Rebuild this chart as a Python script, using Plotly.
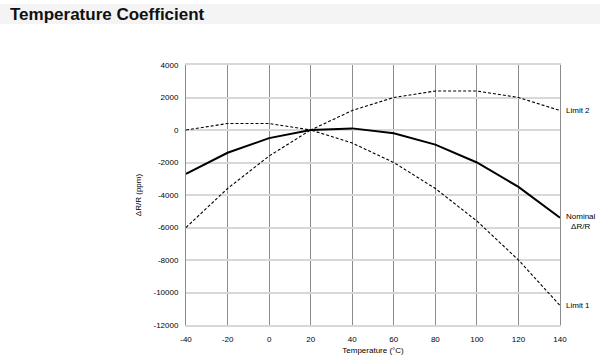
import plotly.graph_objects as go

temps = [-40, -20, 0, 20, 40, 60, 80, 100, 120, 140]
nominal = [-2700, -1400, -500, 0, 100, -200, -900, -2000, -3500, -5400]
limit2 = [0, 400, 400, 0, 1200, 2000, 2400, 2400, 2000, 1200]
limit1 = [-6000, -3600, -1600, 0, -800, -2000, -3600, -5600, -8000, -10800]

x_ticks = [-40, -20, 0, 20, 40, 60, 80, 100, 120, 140]
x_labels = ["-40", "-20", "0", "20", "40", "60", "80", "100", "120", "140"]
y_ticks = [4000, 2000, 0, -2000, -4000, -6000, -8000, -10000, -12000]
y_labels = ["4000", "2000", "0", "-2000", "-4000", "-6000", "-8000", "-10000", "-12000"]

FONT = "Liberation Sans, Arial, sans-serif"

fig = go.Figure()
fig.add_trace(go.Scatter(x=temps, y=limit2, mode="lines",
                         line=dict(color="black", width=1.1, dash="3px,2px"), name="Limit 2"))
fig.add_trace(go.Scatter(x=temps, y=limit1, mode="lines",
                         line=dict(color="black", width=1.1, dash="3px,2px"), name="Limit 1"))
fig.add_trace(go.Scatter(x=temps, y=nominal, mode="lines",
                         line=dict(color="black", width=2), name="Nominal"))

L, R, T, B = 186, 40, 65, 30
W, H = 600, 355
pw, ph = W - L - R, H - T - B

def px2x(px):
    return (px - L) / pw

def px2y(py):
    return (H - B - py) / ph

# title band
fig.add_shape(type="rect", xref="paper", yref="paper",
              x0=px2x(0), x1=px2x(600), y0=px2y(24), y1=px2y(4),
              fillcolor="#f4f4f4", line_width=0, layer="below")
fig.add_annotation(xref="paper", yref="paper", x=px2x(8), y=px2y(14),
                   xanchor="left", yanchor="middle", showarrow=False,
                   text="<b>Temperature Coefficient</b>",
                   font=dict(family=FONT, size=17, color="#111"))

# series labels
lab_font = dict(family=FONT, size=8, color="black")
fig.add_annotation(x=140, y=limit2[-1], xref="x", yref="y", text="Limit 2",
                   showarrow=False, xanchor="left", xshift=4, font=lab_font)
fig.add_annotation(x=140, y=nominal[-1], xref="x", yref="y", text="Nominal<br>ΔR/R",
                   showarrow=False, xanchor="left", xshift=4, yshift=-4, font=lab_font,
                   align="center")
fig.add_annotation(x=140, y=limit1[-1], xref="x", yref="y", text="Limit 1",
                   showarrow=False, xanchor="left", xshift=4, font=lab_font)

fig.update_layout(
    width=W, height=H,
    margin=dict(l=L, r=R, t=T, b=B),
    paper_bgcolor="white", plot_bgcolor="white",
    showlegend=False,
    font=dict(family=FONT, size=8, color="black"),
)
fig.update_xaxes(range=[-40, 140], tickvals=x_ticks, ticktext=x_labels, ticks="",
                 showgrid=True, gridcolor="#8c8c8c", gridwidth=1, automargin=False,
                 zeroline=False, showline=True, linecolor="#d8d8d8", linewidth=2, mirror=True,
                 ticklabelstandoff=5,
                 title=dict(text="Temperature (°C)", font=dict(size=8, color="black"), standoff=8),
                 tickfont=dict(size=8, color="black"))
fig.update_yaxes(range=[-12000, 4000], tickvals=y_ticks, ticktext=y_labels, ticks="",
                 showgrid=True, gridcolor="#d8d8d8", gridwidth=2, automargin=False,
                 zeroline=False, showline=True, linecolor="#8c8c8c", linewidth=1, mirror=True,
                 ticklabelstandoff=5,
                 title=dict(text="ΔR/R (ppm)", font=dict(size=8, color="black"), standoff=10),
                 tickfont=dict(size=8, color="black"))

fig.write_html("out.html")
